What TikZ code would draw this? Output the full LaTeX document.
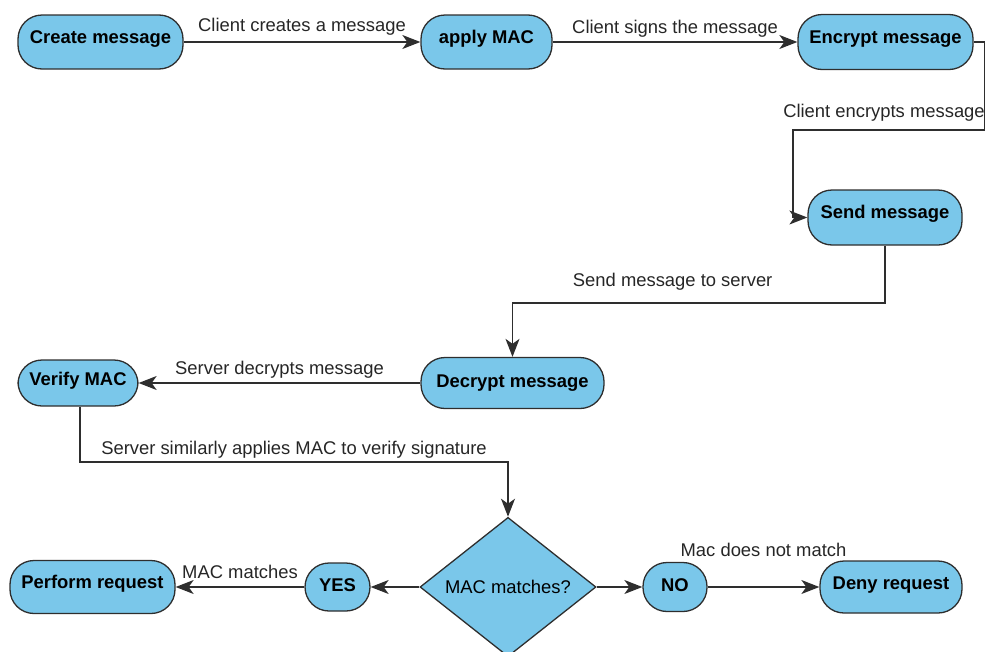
\documentclass[tikz,border=0pt]{standalone}
\usepackage{fontspec}
\setmainfont{Liberation Sans}
\usetikzlibrary{shapes.geometric,arrows.meta}

\definecolor{boxblue}{HTML}{7AC7EA}
\definecolor{linegray}{HTML}{2E2E2E}

\tikzset{
  stepbox/.style={draw=linegray, fill=boxblue, line width=1.3pt, rounded corners=24pt,
    font=\fontsize{18.4}{20}\selectfont\bfseries, inner sep=0pt,
    text height=13pt, text depth=11pt},
  midtext/.style={text depth=5pt},
  decide/.style={draw=linegray, fill=boxblue, line width=1.3pt, diamond, inner sep=0pt,
    minimum width=176pt, minimum height=134pt, font=\fontsize{18.4}{20}\selectfont},
  flow/.style={draw=linegray, line width=1.3pt, -{Stealth[length=18pt,width=14pt,inset=5pt]}},
  lbl/.style={font=\fontsize{18.4}{20}\selectfont, text=black!85, inner sep=2pt}
}

\begin{document}
\begin{tikzpicture}[x=1pt, y=-1pt]
\useasboundingbox (0,0) rectangle (985,651);
\clip (0,0) rectangle (985,651);

% Client side
\node[stepbox, minimum width=165pt, minimum height=54pt] (create) at (100.5,42) {Create message};
\node[stepbox, minimum width=131pt, minimum height=54pt] (mac) at (486.5,42) {apply MAC};
\node[stepbox, minimum width=175pt, minimum height=55pt] (encrypt) at (885.5,42) {Encrypt message};
\node[stepbox, minimum width=154pt, minimum height=55pt] (send) at (885,217.5) {Send message};

% Server side
\node[stepbox, midtext, minimum width=183pt, minimum height=51pt] (decrypt) at (512.5,383) {Decrypt message};
\node[stepbox, minimum width=120pt, minimum height=46pt, text depth=8pt] (verify) at (78,383) {Verify MAC};

% Decision and outcomes
\node[decide] (check) at (508,587) {MAC matches?};
\node[stepbox, midtext, minimum width=65pt, minimum height=48pt] (yes) at (337.5,587) {YES};
\node[stepbox, minimum width=165pt, minimum height=53pt] (perform) at (92.5,587) {Perform request};
\node[stepbox, midtext, minimum width=64pt, minimum height=49pt] (no) at (675,587) {NO};
\node[stepbox, minimum width=142pt, minimum height=52pt, text depth=9pt] (deny) at (891,587) {Deny request};

% Corner points of the elbow connectors
\coordinate (c1) at (985,42);
\coordinate (c2) at (985,130);
\coordinate (c3) at (793,130);
\coordinate (c4) at (793,217.5);
\coordinate (c5) at (885,303);
\coordinate (c6) at (80,462);

% Connectors
\draw[flow] (create) -- node[lbl, above, yshift=4pt] {Client creates a message} (mac);
\draw[flow] (mac) -- node[lbl, above, yshift=2pt] {Client signs the message} (encrypt);
\draw[flow] (encrypt) -- (c1) -- (c2) -- node[lbl, above, yshift=6pt, xshift=-5pt] {Client encrypts message} (c3) -- (c4) -- (send);
\draw[flow] (send) -- (c5) -- node[lbl, above, pos=0.57, yshift=10pt] {Send message to server} (c5 -| decrypt) -- (decrypt);
\draw[flow] (decrypt) -- node[lbl, above, yshift=2pt] {Server decrypts message} (verify);
\draw[flow] (verify.south -| c6) -- (c6) -- node[lbl, above, yshift=1pt] {Server similarly applies MAC to verify signature} (c6 -| check) -- (check);
\draw[flow] (check) -- (yes);
\draw[flow] (yes) -- node[lbl, above, yshift=6pt] {MAC matches} (perform);
\draw[flow] (check) -- (no);
\draw[flow] (no) -- node[lbl, above, yshift=28pt] {Mac does not match} (deny);
\end{tikzpicture}
\end{document}
